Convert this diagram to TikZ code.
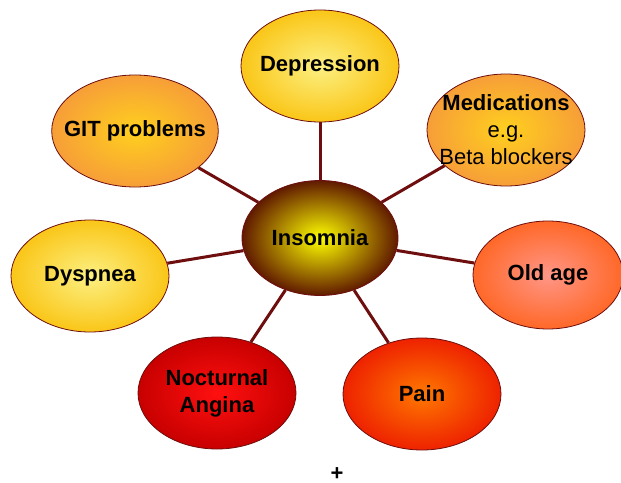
\documentclass[tikz,border=0pt]{standalone}
\usepackage{fontspec}
\setmainfont{Liberation Sans}
\usetikzlibrary{shapes.geometric}
\definecolor{spoke}{RGB}{110,14,14}
\begin{document}
\begin{tikzpicture}[x=0.5pt, y=-0.5pt, font=\fontsize{11}{13.5}\selectfont,
		cause/.style={ellipse, draw=spoke, line width=0.4pt, minimum width=79pt, minimum height=56pt,
			inner sep=-6pt, align=center, font=\fontsize{11}{13.5}\selectfont\bfseries},
		link/.style={draw=spoke, line width=1.5pt}]
		\useasboundingbox (0,0) rectangle (621,482);
		% centre
		\node[cause, minimum width=78pt, minimum height=57.5pt, inner color=yellow, outer color={rgb,255:red,96;green,26;blue,0}] (ins) at (320,238) {Insomnia};
		% causes around it
		\node[cause, inner color={rgb,255:red,252;green,240;blue,130}, outer color={rgb,255:red,250;green,198;blue,24}] (dep) at (320,66) {Depression};
		\node[cause, inner color={rgb,255:red,255;green,208;blue,30}, outer color={rgb,255:red,246;green,158;blue,56}] (med) at (506,130) {Medications\\ \mdseries e.g.\\ \mdseries Beta blockers};
		\node[cause, inner color={rgb,255:red,255;green,208;blue,30}, outer color={rgb,255:red,246;green,158;blue,56}] (git) at (135,131) {GIT problems};
		\node[cause, inner color={rgb,255:red,252;green,240;blue,130}, outer color={rgb,255:red,250;green,198;blue,24}] (dys) at (90,276) {Dyspnea};
		\node[cause, minimum width=75pt, minimum height=54pt, inner color={rgb,255:red,255;green,150;blue,135}, outer color={rgb,255:red,255;green,104;blue,40}] (old) at (548,275) {Old age};
		\node[cause, inner color={rgb,255:red,255;green,16;blue,16}, outer color={rgb,255:red,200;green,0;blue,0}] (noc) at (217,393) {Nocturnal\\ Angina};
		\node[cause, inner color={rgb,255:red,255;green,120;blue,0}, outer color={rgb,255:red,238;green,34;blue,0}] (pain) at (422,394) {Pain};
		% spokes
		\foreach \n in {dep,med,git,dys,old,noc,pain}
			\draw[link] (ins) -- (\n);
		\node[font=\fontsize{11}{13.5}\selectfont\bfseries] (plus) at (337,474) {+};
	\end{tikzpicture}
\end{document}
